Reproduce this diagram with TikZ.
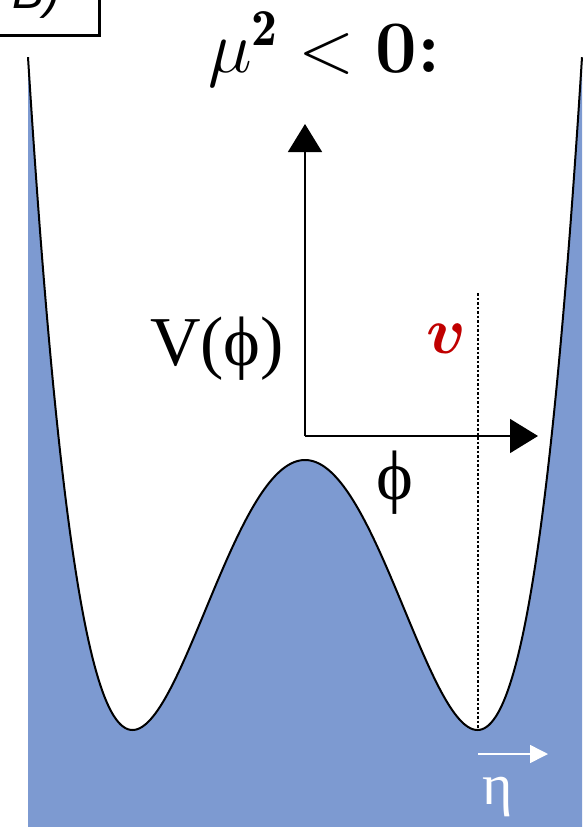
\RequirePackage{fix-cm}
\documentclass[tikz,border=0pt]{standalone}
\usepackage{bm}
\usepackage{fontspec}
\newfontfamily\serifr{Liberation Serif}
\newfontfamily\sansf{Liberation Sans}
\usetikzlibrary{arrows.meta}
\definecolor{wellblue}{RGB}{125,154,209}
\definecolor{vred}{RGB}{192,0,0}
\tikzset{
  axis/.style={line width=1.5bp, -{Triangle[length=28bp,width=34bp]}},
  curve/.style={line width=2bp, black},
  lbl/.style={inner sep=0pt, outer sep=0pt},
}
\begin{document}
\begin{tikzpicture}[x=1bp,y=-1bp]
\useasboundingbox (0,0) rectangle (585,827);
\begin{scope}
\clip (0,0) rectangle (585,827);
% blue fill under potential
\fill[wellblue] (28,827) -- plot[domain=28:582,samples=240,smooth] (\x,{730-270*((((\x-305)/172.5)^2-1)^2)}) -- (582,827) -- cycle;
\draw[curve] plot[domain=28:582,samples=240,smooth] (\x,{730-270*((((\x-305)/172.5)^2-1)^2)});
% label box B)
\draw[line width=3bp] (-10,-10) rectangle (99,35);
\node[lbl, anchor=base west] (blabel) at (12,8) {\sansf\itshape\fontsize{48bp}{48bp}\selectfont B)};
\end{scope}
% title
\node[lbl, anchor=base west] (title) at (208,72) {\fontsize{74bp}{74bp}\selectfont $\mu^{\mathbf{2}} < \mbox{\bfseries 0:}$};
% axes
\coordinate (O) at (305,436);
\coordinate (ytip) at (305,124);
\coordinate (xtip) at (538,436);
\draw[axis] (O) -- (ytip);
\draw[axis] (O) -- (xtip);
% dotted vev line
\coordinate (vtop) at (478,293);
\coordinate (vmin) at (478,730);
\draw[line width=2.2bp, dash pattern=on 2.5bp off 2bp] (vtop) -- (vmin);
% labels
\node[lbl, anchor=base west] (Vphi) at (150,365) {\serifr\fontsize{70bp}{70bp}\selectfont V(ϕ)};
\node[lbl] (phi) at (395,483) {\serifr\fontsize{70bp}{70bp}\selectfont ϕ};
\node[lbl, anchor=base, text=vred] (vev) at (446,353) {\fontsize{66bp}{66bp}\selectfont $\bm{v}$};
% eta excitation
\coordinate (etaL) at (478,754);
\coordinate (etaR) at (548,754);
\draw[white, line width=1.5bp, -{Triangle[length=18bp,width=18bp]}] (etaL) -- (etaR);
\node[lbl, text=white] (eta) at (498,797) {\serifr\fontsize{58bp}{58bp}\selectfont η};
\end{tikzpicture}
\end{document}
